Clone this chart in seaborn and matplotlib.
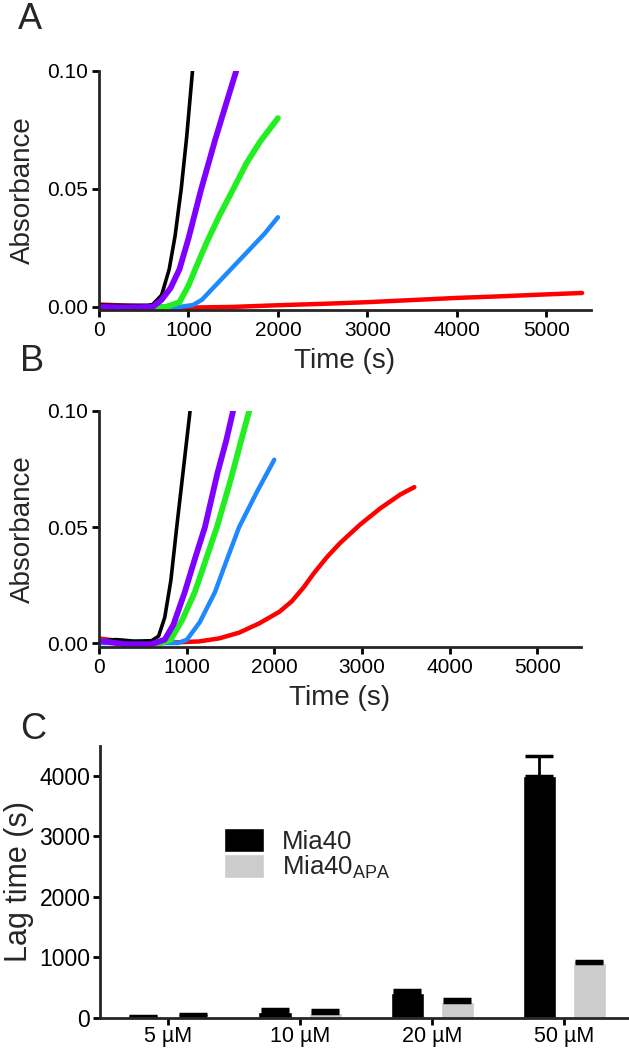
import numpy as np
import pandas as pd
import seaborn as sns
import matplotlib
matplotlib.use("Agg")
import matplotlib.pyplot as plt

# ---- panel A traces (time s, absorbance) ----
a_black_t = [0, 300, 550, 600, 700, 785, 850, 919, 980, 1045]
a_black_y = [0.0008, 0.0006, 0.0007, 0.001, 0.005, 0.016, 0.030, 0.050, 0.072, 0.100]
a_purple_t = [0, 300, 600, 700, 800, 900, 1000, 1143, 1300, 1420, 1534]
a_purple_y = [0.0, -0.0003, 0.0, 0.003, 0.008, 0.016, 0.029, 0.050, 0.071, 0.086, 0.100]
a_green_t = [0, 750, 900, 1000, 1076, 1200, 1350, 1502, 1650, 1800, 1900, 2000]
a_green_y = [0.0, 0.0, 0.002, 0.009, 0.016, 0.027, 0.039, 0.050, 0.061, 0.070, 0.075, 0.080]
a_blue_t = [0, 900, 1050, 1150, 1250, 1400, 1550, 1700, 1850, 2000]
a_blue_y = [0.0005, 0.0, 0.0008, 0.003, 0.007, 0.013, 0.019, 0.025, 0.031, 0.038]
a_red_t = [0, 500, 1000, 1500, 2000, 2500, 3000, 3500, 4000, 4500, 5000, 5400]
a_red_y = [0.001, 0.0003, -0.0003, 0.0, 0.0007, 0.0013, 0.002, 0.0029, 0.0038, 0.0045, 0.0053, 0.0059]

# ---- panel B traces ----
b_black_t = [0, 200, 400, 600, 680, 750, 820, 887, 960, 1039]
b_black_y = [0.001, 0.0015, 0.0008, 0.001, 0.003, 0.011, 0.027, 0.050, 0.074, 0.100]
b_purple_t = [0, 300, 600, 750, 850, 979, 1100, 1209, 1350, 1450, 1530]
b_purple_y = [0.001, -0.0005, -0.0005, 0.0015, 0.008, 0.022, 0.037, 0.050, 0.073, 0.087, 0.100]
b_green_t = [0, 700, 818, 950, 1094, 1220, 1346, 1500, 1620, 1714]
b_green_y = [0.001, 0.0, 0.0014, 0.010, 0.022, 0.036, 0.050, 0.070, 0.087, 0.100]
b_blue_t = [0, 900, 1002, 1150, 1324, 1460, 1599, 1800, 2000]
b_blue_y = [0.0, 0.0, 0.0014, 0.009, 0.022, 0.036, 0.050, 0.065, 0.079]
b_red_t = [0, 300, 700, 1140, 1370, 1600, 1829, 2059, 2200, 2335, 2450, 2600,
           2748, 2978, 3208, 3438, 3598]
b_red_y = [0.002, 0.0005, 0.0, 0.0007, 0.002, 0.0045, 0.0085, 0.0135, 0.018,
           0.024, 0.030, 0.037, 0.043, 0.051, 0.058, 0.064, 0.0672]

# ---- panel C lag times ----
conc = ["5 µM", "10 µM", "20 µM", "50 µM"]
lag_wt = [20, 95, 410, 4000]
err_wt = [18, 55, 45, 320]
lag_apa = [30, 90, 265, 900]
err_apa = [40, 45, 48, 35]

colors = {"red": "#ff0000", "blue": "#1e88ff", "green": "#22ee22",
          "black": "#000000", "purple": "#8000ff"}
widths = {"red": 3.2, "blue": 3.2, "green": 4.2, "black": 2.6, "purple": 4.2}

sns.set_style("ticks")
plt.rcParams["font.family"] = ["Liberation Sans", "DejaVu Sans"]
plt.rcParams["axes.linewidth"] = 2
plt.rcParams["xtick.major.width"] = 2
plt.rcParams["ytick.major.width"] = 2
plt.rcParams["xtick.major.size"] = 5
plt.rcParams["ytick.major.size"] = 5
plt.rcParams["xtick.color"] = "black"
plt.rcParams["ytick.color"] = "black"

fig = plt.figure(figsize=(6.29, 10.5), dpi=100)
axA = fig.add_axes([0.1574, 0.7048, 0.7822, 0.2276])
axB = fig.add_axes([0.1574, 0.3838, 0.7663, 0.2248])
axC = fig.add_axes([0.159, 0.0305, 0.841, 0.2595])


def draw_traces(ax, traces):
    for name, t, y in traces:
        df = pd.DataFrame({"time": t, "abs": y})
        sns.lineplot(data=df, x="time", y="abs", ax=ax, color=colors[name],
                     lw=widths[name], sort=False, estimator=None,
                     solid_capstyle="round", solid_joinstyle="round")
    ax.set_xlim(0, 5500)
    ax.set_xticks([0, 1000, 2000, 3000, 4000, 5000])
    ax.set_yticks([0, 0.05, 0.10])
    ax.set_yticklabels(["0.00", "0.05", "0.10"])
    ax.tick_params(labelsize=15, pad=3)
    ax.set_xlabel("Time (s)", fontsize=20, labelpad=6)
    ax.set_ylabel("Absorbance", fontsize=20, labelpad=8)
    sns.despine(ax=ax)


draw_traces(axA, [("red", a_red_t, a_red_y), ("blue", a_blue_t, a_blue_y),
                  ("green", a_green_t, a_green_y), ("black", a_black_t, a_black_y),
                  ("purple", a_purple_t, a_purple_y)])
axA.set_ylim(-0.0013, 0.10)

draw_traces(axB, [("red", b_red_t, b_red_y), ("blue", b_blue_t, b_blue_y),
                  ("green", b_green_t, b_green_y), ("black", b_black_t, b_black_y),
                  ("purple", b_purple_t, b_purple_y)])
axB.set_ylim(-0.0017, 0.10)

# bar panel
lab_wt = "Mia40"
lab_apa = "Mia40$_\\mathregular{APA}$"
bars = pd.DataFrame({
    "conc": conc * 2,
    "lag": lag_wt + lag_apa,
    "protein": [lab_wt] * 4 + [lab_apa] * 4,
})
sns.barplot(data=bars, x="conc", y="lag", hue="protein", ax=axC,
            palette={lab_wt: "#000000", lab_apa: "#cccccc"},
            errorbar=None, width=0.76, gap=0.34, saturation=1)
for cont, errs in zip(axC.containers, [err_wt, err_apa]):
    xs = [b.get_x() + b.get_width() / 2 for b in cont]
    hs = [b.get_height() for b in cont]
    axC.errorbar(xs, hs, yerr=[np.zeros(len(errs)), errs], fmt="none",
                 ecolor="black", elinewidth=2, capsize=10, capthick=2.5)
axC.set_xlim(-0.515, 3.49)
axC.set_ylim(0, 4500)
axC.set_yticks([0, 1000, 2000, 3000, 4000])
axC.tick_params(axis="y", labelsize=16.5, pad=2)
axC.tick_params(axis="x", labelsize=15.5, pad=0.5)
axC.set_xlabel("")
axC.set_ylabel("Lag time (s)", fontsize=22, labelpad=4)
sns.despine(ax=axC)
sns.move_legend(axC, "upper left", bbox_to_anchor=(0.215, 0.735), frameon=False,
                title=None, fontsize=18.5, handlelength=1.55, handleheight=1.05,
                labelspacing=0.0, handletextpad=0.7, borderaxespad=0)

fig.text(18 / 629, 1 - 29 / 1050, "A", fontsize=26, va="baseline")
fig.text(20 / 629, 1 - 371 / 1050, "B", fontsize=26, va="baseline")
fig.text(20 / 629, 1 - 739 / 1050, "C", fontsize=26, va="baseline")

fig.savefig("out.png", dpi=100)
